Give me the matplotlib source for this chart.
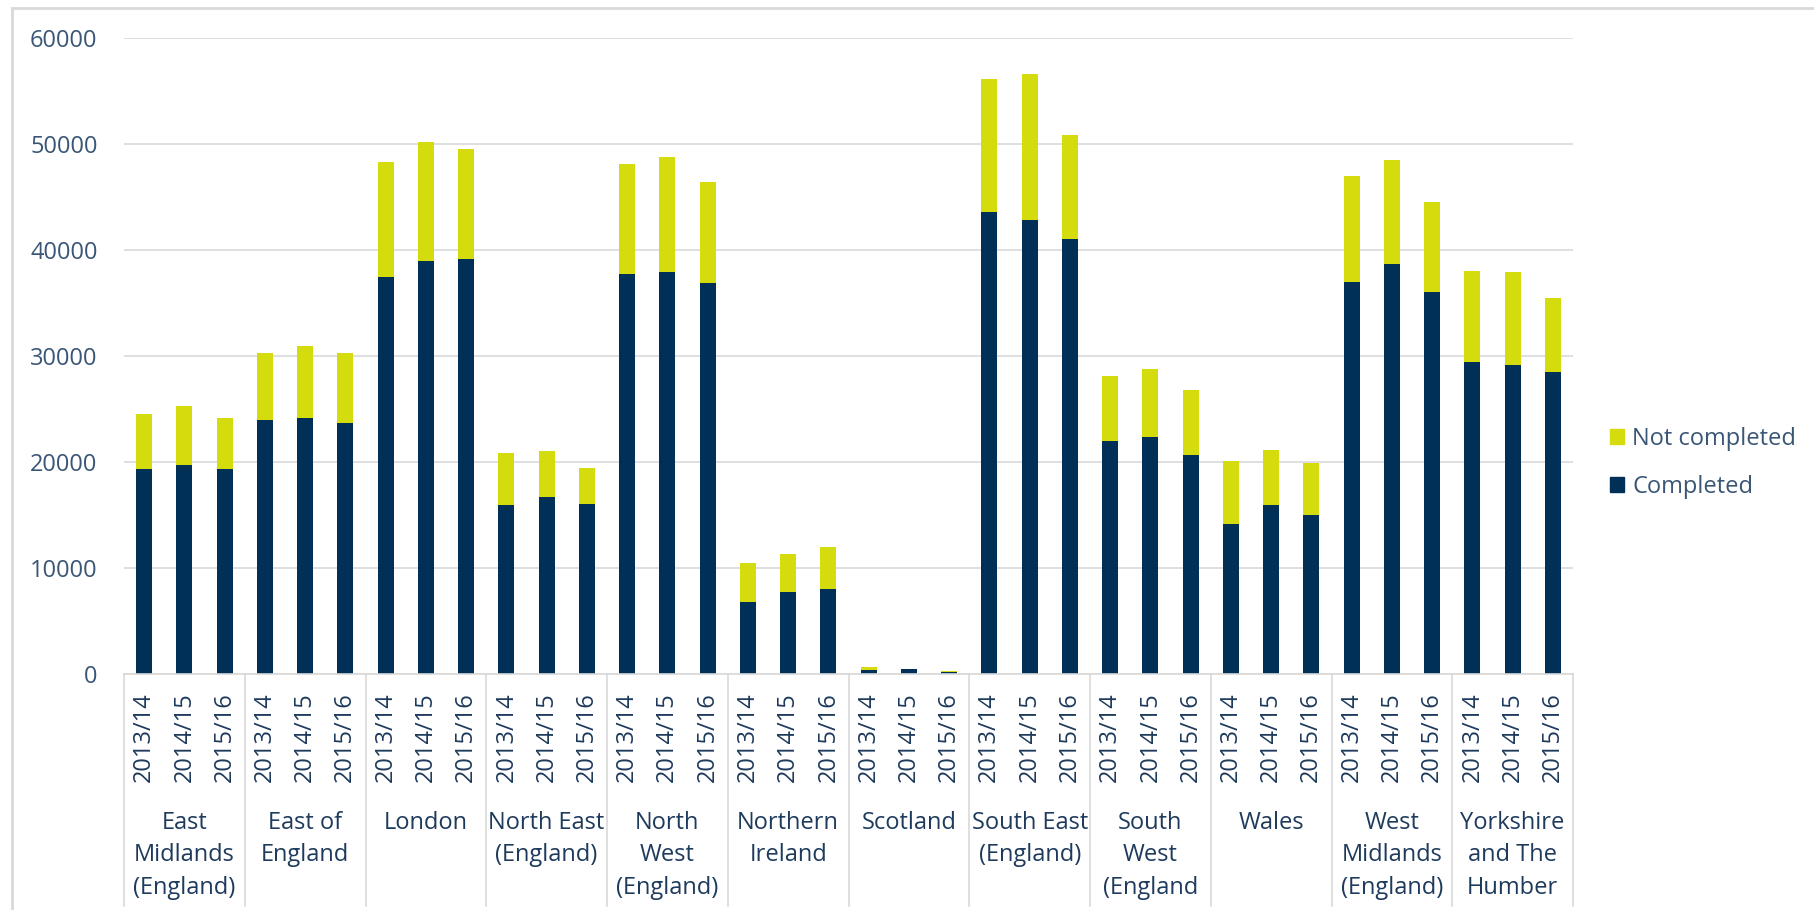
import matplotlib
matplotlib.use("Agg")
import matplotlib.pyplot as plt
import matplotlib.transforms as mtransforms
from matplotlib.patches import Patch
from matplotlib.lines import Line2D
import numpy as np

plt.rcParams['font.family'] = ['Open Sans', 'DejaVu Sans']

regions = ['East\nMidlands\n(England)', 'East of\nEngland', 'London', 'North East\n(England)',
           'North\nWest\n(England)', 'Northern\nIreland', 'Scotland', 'South East\n(England)',
           'South\nWest\n(England', 'Wales', 'West\nMidlands\n(England)', 'Yorkshire\nand The\nHumber']
years = ['2013/14', '2014/15', '2015/16']

# completed / total per region, in year order
completed = [19360, 19710, 19360,
             23930, 24160, 23690,
             37430, 38990, 39150,
             15960, 16670, 16080,
             37780, 37900, 36850,
             6790, 7770, 8000,
             390, 430, 160,
             43600, 42860, 41060,
             22010, 22370, 20690,
             14170, 15960, 15030,
             37000, 38680, 36030,
             29390, 29120, 28490]
total = [24510, 25330, 24120,
         30290, 30910, 30290,
         48280, 50200, 49570,
         20880, 21000, 19440,
         48130, 48750, 46450,
         10500, 11360, 11940,
         620, 510, 270,
         56130, 56640, 50820,
         28100, 28730, 26810,
         20060, 21160, 19910,
         46960, 48520, 44540,
         38060, 37900, 35480]
not_completed = [t - c for t, c in zip(total, completed)]

navy = '#003057'
lime = '#D4DC0D'
grey = '#D9D9D9'
tick_col = '#3A5676'
cat_col = '#1E3A5C'

fig = plt.figure(figsize=(18.14, 9.10), dpi=100)
ax = fig.add_axes([124 / 1814, 1 - 674 / 910, 1449 / 1814, 636 / 910])

x = np.arange(len(completed))
ax.bar(x, completed, width=0.4, color=navy, label='Completed', zorder=2)
ax.bar(x, not_completed, width=0.4, bottom=completed, color=lime, label='Not completed', zorder=2)

ax.set_xlim(-0.5, len(completed) - 0.5)
ax.set_ylim(0, 60000)
ax.set_yticks(np.arange(0, 60001, 10000))
ax.yaxis.grid(True, color=grey, linewidth=1.2, zorder=0)
ax.set_axisbelow(True)
for s in ['top', 'right', 'left']:
    ax.spines[s].set_visible(False)
ax.spines['bottom'].set_color(grey)
ax.spines['bottom'].set_linewidth(1.2)
ax.tick_params(axis='y', length=0, pad=19, labelsize=17, labelcolor=tick_col)

ax.set_xticks(x)
ax.set_xticklabels(years * len(regions), rotation=90)
ax.tick_params(axis='x', length=0, pad=13, labelsize=17, labelcolor=cat_col)

trans = mtransforms.blended_transform_factory(ax.transData, ax.transAxes)
for i, name in enumerate(regions):
    ax.text(3 * i + 1, -0.216, name, transform=trans, ha='center', va='top',
            fontsize=17, color=cat_col, linespacing=1.45)
for b in np.arange(-0.5, len(completed), 3):
    ax.add_line(Line2D([b, b], [0, -0.365], transform=trans, color=grey,
                       linewidth=1.2, clip_on=False))

# chart area border
fig.add_artist(Line2D([12 / 1814, 1], [1 - 8 / 910, 1 - 8 / 910], transform=fig.transFigure,
                      color=grey, linewidth=2))
fig.add_artist(Line2D([12 / 1814, 12 / 1814], [0, 1 - 8 / 910], transform=fig.transFigure,
                      color=grey, linewidth=2))

handles = [Patch(color=lime, label='Not completed'), Patch(color=navy, label='Completed')]
leg = fig.legend(handles=handles, loc='center left', bbox_to_anchor=(1610 / 1814, 1 - 463 / 910),
                 frameon=False, fontsize=17, handlelength=0.6, handleheight=0.6,
                 handletextpad=0.35, labelspacing=1.0, borderpad=0, borderaxespad=0)
for t in leg.get_texts():
    t.set_color(tick_col)

fig.savefig('out.png', dpi=100)
